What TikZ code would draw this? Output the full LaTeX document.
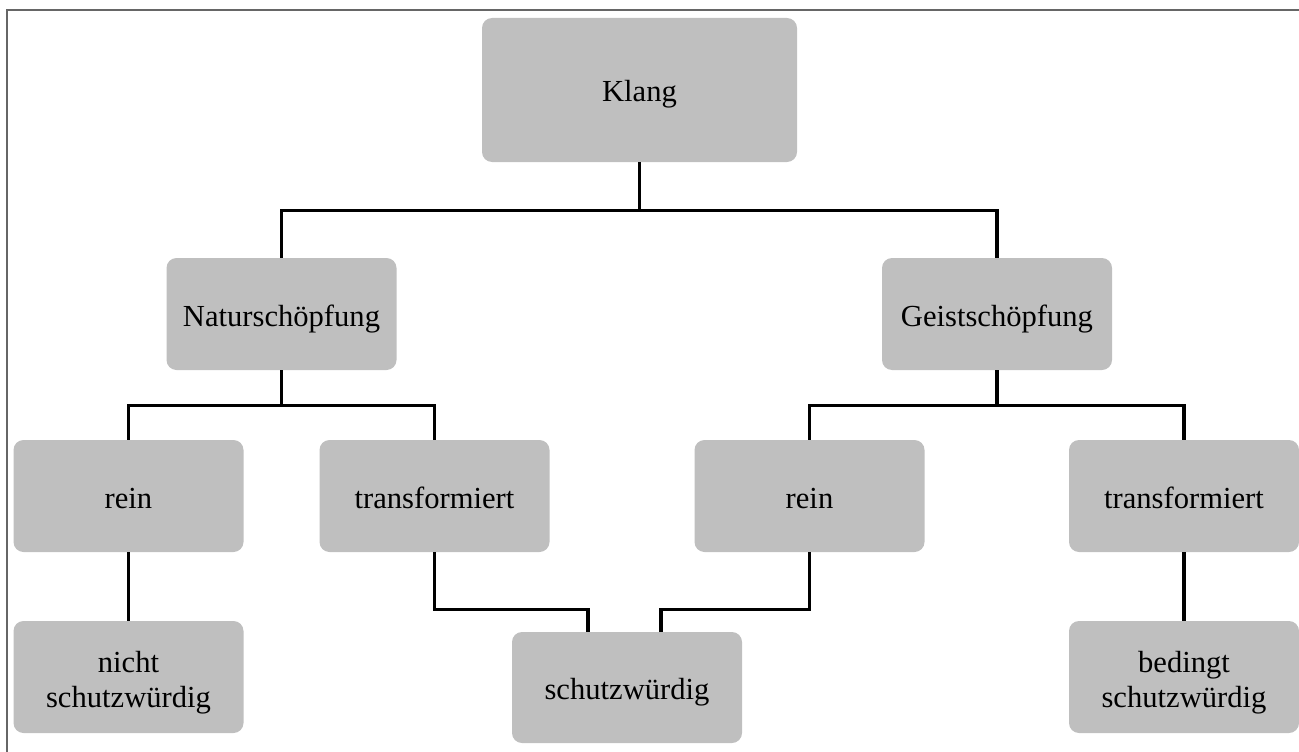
\documentclass[tikz,border=0pt]{standalone}
\usepackage{fontspec}
\setmainfont{Liberation Serif}
\begin{document}
\begin{tikzpicture}[x=1pt,y=-1pt,
   box/.style={fill=black!25,rounded corners=10pt,inner sep=0pt,
     minimum width=230pt,minimum height=112pt,align=center,
     text height=30pt,text depth=6pt,
     font=\fontsize{30.6}{35}\selectfont},
   twoline/.style={text height=65pt,text depth=5pt},
   link/.style={black,line width=3.3pt}]
   \clip (0,0) rectangle (1299,752);
   \draw [black!60,line width=2pt] (7,10) rectangle (1320,770);
   % top level
   \node [box,minimum width=315pt,minimum height=144pt] (klang) at (639.5,90) {Klang};
   \node [box] (natur) at (281.5,314) {Naturschöpfung};
   \node [box] (geist) at (997,314) {Geistschöpfung};
   % second level
   \node [box] (reinL) at (128.5,496) {rein};
   \node [box] (transL) at (434.5,496) {transformiert};
   \node [box] (reinR) at (809.5,496) {rein};
   \node [box] (transR) at (1184,496) {transformiert};
   % results
   \node [box,twoline] (nicht) at (128.5,677) {nicht\\schutzwürdig};
   \node [box,minimum height=111pt] (schutz) at (627,687.5) {schutzwürdig};
   \node [box,twoline] (bedingt) at (1184,677) {bedingt\\schutzwürdig};
   % connectors
   \draw [link] (klang.south) -- ++(0,48) -| (natur.north);
   \draw [link] (klang.south) -- ++(0,48) -| (geist.north);
   \draw [link] (natur.south) -- ++(0,35) -| (reinL.north);
   \draw [link] (natur.south) -- ++(0,35) -| (transL.north);
   \draw [link] (geist.south) -- ++(0,35) -| (reinR.north);
   \draw [link] (geist.south) -- ++(0,35) -| (transR.north);
   \draw [link] (reinL.south) -- (nicht.north);
   \draw [link] (transR.south) -- (bedingt.north);
   \draw [link] (transL.south) -- ++(0,57) -| ([xshift=-39pt]schutz.north);
   \draw [link] (reinR.south) -- ++(0,57) -| ([xshift=34pt]schutz.north);
\end{tikzpicture}
\end{document}
